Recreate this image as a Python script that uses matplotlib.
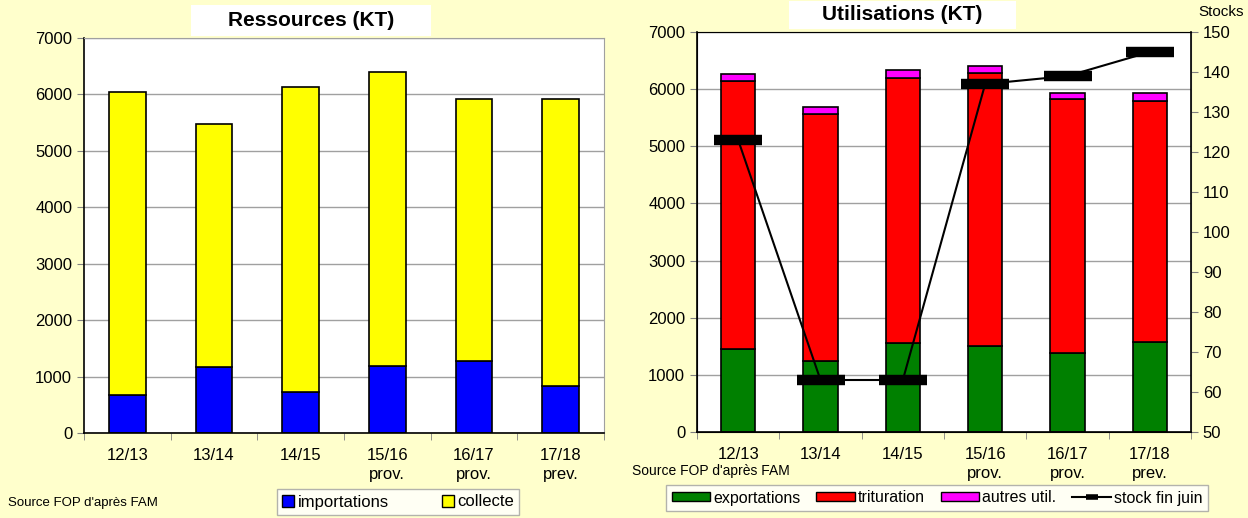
import matplotlib

matplotlib.use("Agg")

import matplotlib.pyplot as plt  # noqa: E402
import numpy as np  # noqa: E402
from matplotlib.lines import Line2D  # noqa: E402
from matplotlib.patches import Patch, Rectangle  # noqa: E402

plt.rcParams["font.family"] = ["Liberation Sans", "DejaVu Sans"]

# --- data (KT) ---------------------------------------------------------------
campagnes = ["12/13", "13/14", "14/15", "15/16\nprov.", "16/17\nprov.", "17/18\nprev."]

importations = [680, 1170, 720, 1190, 1280, 830]
collecte = [5360, 4310, 5410, 5200, 4640, 5090]

exportations = [1460, 1240, 1560, 1510, 1380, 1570]
trituration = [4690, 4320, 4640, 4780, 4440, 4230]
autres_util = [110, 120, 140, 120, 110, 130]
stock_fin_juin = [123, 63, 63, 137, 139, 145]

BG = "#FFFFCC"
W, H = 1248, 518


def fig_box(x0, y0, x1, y1):
    """Pixel box (top-left origin) -> figure fraction [left, bottom, w, h]."""
    return [x0 / W, 1 - y1 / H, (x1 - x0) / W, (y1 - y0) / H]


def style_axes(ax, ymax):
    ax.set_facecolor("white")
    ax.set_xlim(-0.5, len(campagnes) - 0.5)
    ax.set_ylim(0, ymax)
    ax.set_yticks(np.arange(0, ymax + 1, 1000))
    ax.set_xticks(np.arange(len(campagnes)))
    ax.set_xticklabels(campagnes, fontsize=12, linespacing=1.35)
    ax.set_xticks(np.arange(-0.5, len(campagnes)), minor=True)
    ax.tick_params(axis="x", which="major", length=0, pad=11)
    ax.tick_params(axis="x", which="minor", length=5, color="#808080")
    ax.tick_params(axis="y", labelsize=12, length=5, color="#808080")
    ax.grid(axis="y", color="#A0A0A0", lw=1)
    ax.set_axisbelow(True)
    for side in ("left", "bottom"):
        ax.spines[side].set_color("black")
        ax.spines[side].set_linewidth(1.2)
    for side in ("top", "right"):
        ax.spines[side].set_color("#A0A0A0")


def title_box(fig, text, x0, y0, x1, y1):
    l, b, w, h = fig_box(x0, y0, x1, y1)
    fig.add_artist(Rectangle((l, b), w, h, transform=fig.transFigure,
                             facecolor="white", edgecolor="none"))
    fig.text(l + w / 2, b + h / 2, text, ha="center", va="center",
             fontsize=15, fontweight="bold")


fig = plt.figure(figsize=(W / 100, H / 100), dpi=100, facecolor=BG)
x = np.arange(len(campagnes))
bw = 0.42
edge = dict(edgecolor="black", linewidth=1.2)

# --- Ressources ---------------------------------------------------------------
ax1 = fig.add_axes(fig_box(84, 38, 604, 433))
style_axes(ax1, 7000)
ax1.bar(x, importations, bw, color="#0000FF", **edge)
ax1.bar(x, collecte, bw, bottom=importations, color="#FFFF00", **edge)
title_box(fig, "Ressources (KT)", 191, 5, 431, 36)
fig.text(8 / W, 1 - 503 / H, "Source FOP d'après FAM", fontsize=9.5, va="center")
fig.legend(handles=[Patch(facecolor="#0000FF", edgecolor="black", label="importations"),
                    Patch(facecolor="#FFFF00", edgecolor="black", label="collecte")],
           loc="center", bbox_to_anchor=(398 / W, 1 - 502 / H), ncol=2,
           fontsize=12, frameon=True, fancybox=False, edgecolor="#A0A0A0",
           handlelength=0.7, handleheight=0.7, handletextpad=0.2,
           columnspacing=3.2, borderpad=0.35, borderaxespad=0)

# --- Utilisations -------------------------------------------------------------
ax2 = fig.add_axes(fig_box(697, 32, 1191, 432))
style_axes(ax2, 7000)
bot2 = np.array(exportations) + np.array(trituration)
ax2.bar(x, exportations, bw, color="#008000", **edge)
ax2.bar(x, trituration, bw, bottom=exportations, color="#FF0000", **edge)
ax2.bar(x, autres_util, bw, bottom=bot2, color="#FF00FF", **edge)

ax3 = ax2.twinx()
ax3.set_ylim(50, 150)
ax3.set_yticks(np.arange(50, 151, 10))
ax3.tick_params(axis="y", labelsize=12, length=5, color="#808080")
ax3.spines["right"].set_color("black")
ax3.spines["right"].set_linewidth(1.2)
ax3.plot(x, stock_fin_juin, color="black", lw=1.5, marker="_",
         markersize=34, markeredgewidth=7.5, zorder=5)
fig.text(1221 / W, 1 - 12 / H, "Stocks", fontsize=11, ha="center", va="center")

title_box(fig, "Utilisations (KT)", 789, 1, 1016, 29)
fig.text(632 / W, 1 - 471 / H, "Source FOP d'après FAM", fontsize=10, va="center")
fig.legend(handles=[Patch(facecolor="#008000", edgecolor="black", label="exportations"),
                    Patch(facecolor="#FF0000", edgecolor="black", label="trituration"),
                    Patch(facecolor="#FF00FF", edgecolor="black", label="autres util."),
                    Line2D([], [], color="black", lw=1.5, marker="_", markersize=8,
                           markeredgewidth=4, label="stock fin juin")],
           loc="center", bbox_to_anchor=(937 / W, 1 - 498 / H), ncol=4,
           fontsize=11.5, frameon=True, fancybox=False, edgecolor="#A0A0A0",
           handlelength=2.4, handleheight=0.5, handletextpad=0.2,
           columnspacing=1.0, borderpad=0.35, borderaxespad=0)

fig.savefig("out.png", dpi=100, facecolor=BG)
